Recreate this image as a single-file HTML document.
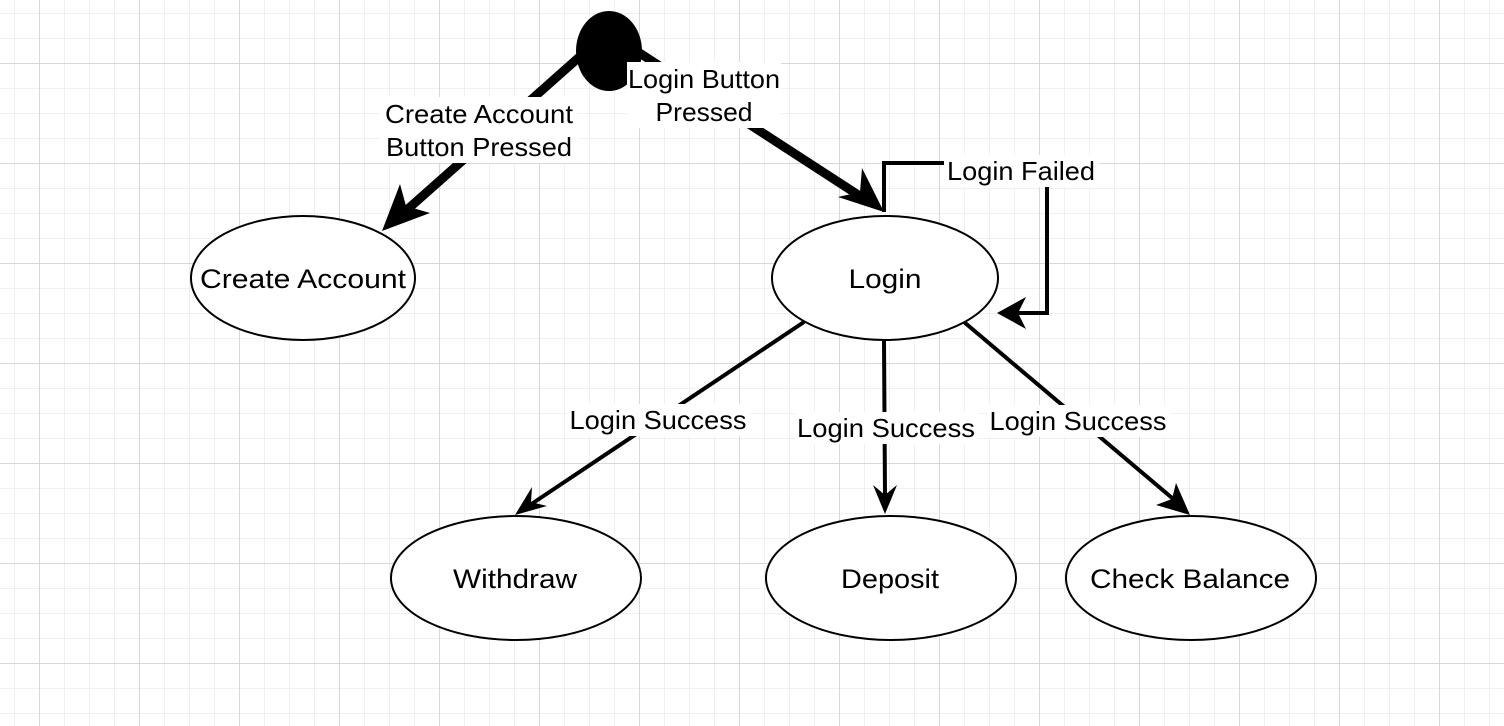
<!DOCTYPE html>
<html><head><meta charset="utf-8"><style>
html,body{margin:0;padding:0;background:#fff;}
svg{display:block;}
text{font-family:"Liberation Sans",Arial,sans-serif;fill:#000;}
</style></head><body>
<svg width="1504" height="726" viewBox="0 0 1504 726" xmlns="http://www.w3.org/2000/svg">
<defs>
<pattern id="minor" x="14" y="13" width="25" height="25" patternUnits="userSpaceOnUse">
<path d="M0 0H25M0 0V25" stroke="#f0f0f0" stroke-width="2" fill="none"/>
</pattern>
<pattern id="major" x="39" y="63" width="100" height="100" patternUnits="userSpaceOnUse">
<path d="M0 0H100M0 0V100" stroke="#d0d0d0" stroke-width="1.5" fill="none"/>
</pattern>
</defs>
<rect width="1504" height="726" fill="#fff"/>
<rect width="1504" height="726" fill="url(#minor)"/>
<rect width="1504" height="726" fill="url(#major)"/>

<line x1="585" y1="52" x2="400" y2="216" stroke="#000" stroke-width="9"/>
<polygon points="382,231 400,184 406,206 430,213" fill="#000"/>
<line x1="635" y1="50" x2="866" y2="200" stroke="#000" stroke-width="9"/>
<polygon points="884,212 838,197 860,192 862,168" fill="#000"/>

<ellipse cx="609" cy="51" rx="33" ry="40" fill="#000"/>

<polyline points="884,212 884,163 1047,163 1047,313 1010,313" fill="none" stroke="#000" stroke-width="4"/>
<polygon points="997,313 1026,297 1018,313 1026,329" fill="#000"/>

<line x1="804" y1="322" x2="530" y2="505" stroke="#000" stroke-width="4"/>
<polygon points="515,515 532,487 531,502 547,506" fill="#000"/>
<line x1="884" y1="341" x2="885" y2="495" stroke="#000" stroke-width="4"/>
<polygon points="885,514 873,485 885,495 897,485" fill="#000"/>
<line x1="964" y1="322" x2="1178" y2="503" stroke="#000" stroke-width="4"/>
<polygon points="1190,515 1156,505 1172,499 1176,483" fill="#000"/>

<g fill="#fff" stroke="#000" stroke-width="2">
<ellipse cx="303" cy="278" rx="112" ry="62"/>
<ellipse cx="885" cy="278" rx="113" ry="62"/>
<ellipse cx="516" cy="578" rx="125" ry="62"/>
<ellipse cx="891" cy="578" rx="125" ry="62"/>
<ellipse cx="1191" cy="578" rx="125" ry="62"/>
</g>
<g font-size="27" text-anchor="middle">
<text x="303" y="288" textLength="206" lengthAdjust="spacingAndGlyphs">Create Account</text>
<text x="885" y="288" textLength="73" lengthAdjust="spacingAndGlyphs">Login</text>
<text x="515" y="588" textLength="124" lengthAdjust="spacingAndGlyphs">Withdraw</text>
<text x="890" y="588" textLength="98" lengthAdjust="spacingAndGlyphs">Deposit</text>
<text x="1190" y="588" textLength="200" lengthAdjust="spacingAndGlyphs">Check Balance</text>
</g>

<g fill="#fff">
<rect x="380" y="97" width="198" height="66"/>
<rect x="627" y="62" width="154" height="66"/>
<rect x="944" y="155" width="155" height="32"/>
<rect x="567" y="404" width="183" height="32"/>
<rect x="795" y="412" width="183" height="32"/>
<rect x="988" y="405" width="182" height="32"/>
</g>
<g font-size="26" text-anchor="middle">
<text x="479" y="123" textLength="188" lengthAdjust="spacingAndGlyphs">Create Account</text>
<text x="479" y="156" textLength="186" lengthAdjust="spacingAndGlyphs">Button Pressed</text>
<text x="704" y="88" textLength="152" lengthAdjust="spacingAndGlyphs">Login Button</text>
<text x="704" y="121" textLength="97" lengthAdjust="spacingAndGlyphs">Pressed</text>
<text x="1021" y="180" textLength="148" lengthAdjust="spacingAndGlyphs">Login Failed</text>
<text x="658" y="429" textLength="177" lengthAdjust="spacingAndGlyphs">Login Success</text>
<text x="886" y="437" textLength="178" lengthAdjust="spacingAndGlyphs">Login Success</text>
<text x="1078" y="430" textLength="177" lengthAdjust="spacingAndGlyphs">Login Success</text>
</g>
</svg>
</body></html>
